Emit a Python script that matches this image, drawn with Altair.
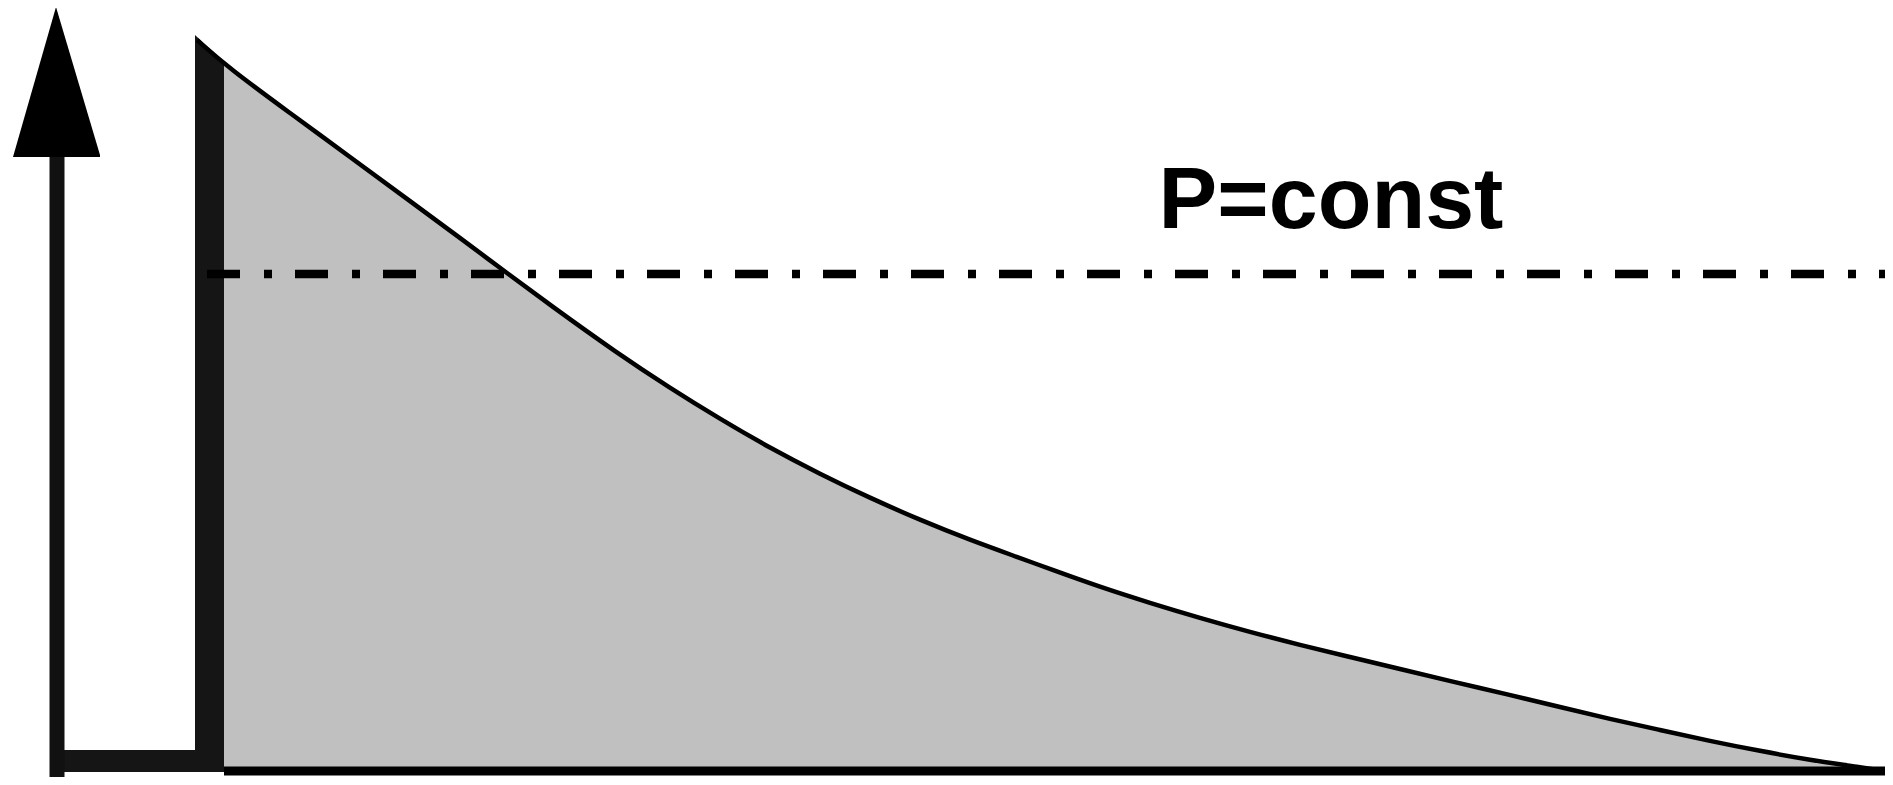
import altair as alt
import pandas as pd

# Pressure curve (reference pixel coordinates: x to the right, y downward)
curve_x = [197, 230, 290, 350, 410, 460, 503, 550, 617, 670, 720, 770, 820,
           870, 920, 970, 1020, 1050, 1100, 1150, 1200, 1250, 1300, 1350,
           1400, 1450, 1510, 1560, 1610, 1660, 1710, 1760, 1810, 1860, 1890]
curve_y = [40, 69, 113, 157, 201, 238, 270, 305, 353, 388, 419, 448, 474,
           498, 520, 540, 558, 569, 587, 603, 618, 632, 645, 657,
           669, 681, 695, 707, 719, 730, 741, 751, 760, 767, 772]
baseline_y = 772

# Wall (thick vertical bar) outline
wall_x = [195, 224]
wall_top = [35, 62]

# Left axis arrow
shaft_x = 57
shaft_top = 157
shaft_bottom = 785
head_x = [13, 56, 100]
head_y = [157, 7, 155]
head_base = 157

# Bottom of the L-shape
foot_x = [50, 224]
foot_y = 761

# Baseline under the gray region
base_x = [224, 1890]
base_y = 771

# Dash-dot line P=const
const_y = 274
const_x = [207, 1893]

label_text = "P=const"
label_x = 1331
label_y = 228

W, H = 1877, 769
xs = alt.Scale(domain=[8, 8 + W])
ys = alt.Scale(domain=[8, 8 + H], reverse=True)

curve_df = pd.DataFrame({"x": curve_x, "y": curve_y, "y2": [baseline_y] * len(curve_x)})
wall_df = pd.DataFrame({"x": wall_x, "y": wall_top, "y2": [baseline_y] * 2})
head_df = pd.DataFrame({"x": head_x, "y": head_y, "y2": [head_base] * 3})
shaft_df = pd.DataFrame({"x": [shaft_x], "y": [shaft_top], "y2": [shaft_bottom]})
foot_df = pd.DataFrame({"x": [foot_x[0]], "x2": [foot_x[1]], "y": [foot_y]})
base_df = pd.DataFrame({"x": [base_x[0]], "x2": [base_x[1]], "y": [base_y]})
const_df = pd.DataFrame({"x": [const_x[0]], "x2": [const_x[1]], "y": [const_y]})
label_df = pd.DataFrame({"x": [label_x], "y": [label_y], "t": [label_text]})

X = lambda f="x": alt.X(f"{f}:Q", scale=xs, axis=None)
Y = lambda f="y": alt.Y(f"{f}:Q", scale=ys, axis=None)

fill = alt.Chart(curve_df).mark_area(color="#c0c0c0", interpolate="basis").encode(
    x=X(), y=Y(), y2="y2:Q")

wall = alt.Chart(wall_df).mark_area(color="#151515", interpolate="linear").encode(
    x=X(), y=Y(), y2="y2:Q")

foot = alt.Chart(foot_df).mark_rule(color="#151515", strokeWidth=22).encode(
    x=X(), x2="x2:Q", y=Y())

shaft = alt.Chart(shaft_df).mark_rule(color="#111111", strokeWidth=15).encode(
    x=X(), y=Y(), y2="y2:Q")

head = alt.Chart(head_df).mark_area(color="#000000", interpolate="linear").encode(
    x=X(), y=Y(), y2="y2:Q")

base = alt.Chart(base_df).mark_rule(color="#000000", strokeWidth=9).encode(
    x=X(), x2="x2:Q", y=Y())

line = alt.Chart(curve_df).mark_line(color="#000000", strokeWidth=4.5, interpolate="basis").encode(
    x=X(), y=Y())

const = alt.Chart(const_df).mark_rule(color="#000000", strokeWidth=8.5,
                                      strokeDash=[33, 24, 8, 23]).encode(
    x=X(), x2="x2:Q", y=Y())

label = alt.Chart(label_df).mark_text(
    font="Liberation Sans", fontWeight="bold", fontSize=88, align="center",
    baseline="alphabetic", color="#000000").encode(x=X(), y=Y(), text="t:N")

chart = alt.layer(fill, wall, foot, shaft, head, base, line, const, label).properties(
    width=W, height=H, padding=0,
    autosize=alt.AutoSizeParams(type="none"),
).configure_view(stroke=None)

chart.save("out.html", embed_options={"renderer": "svg", "actions": False})
